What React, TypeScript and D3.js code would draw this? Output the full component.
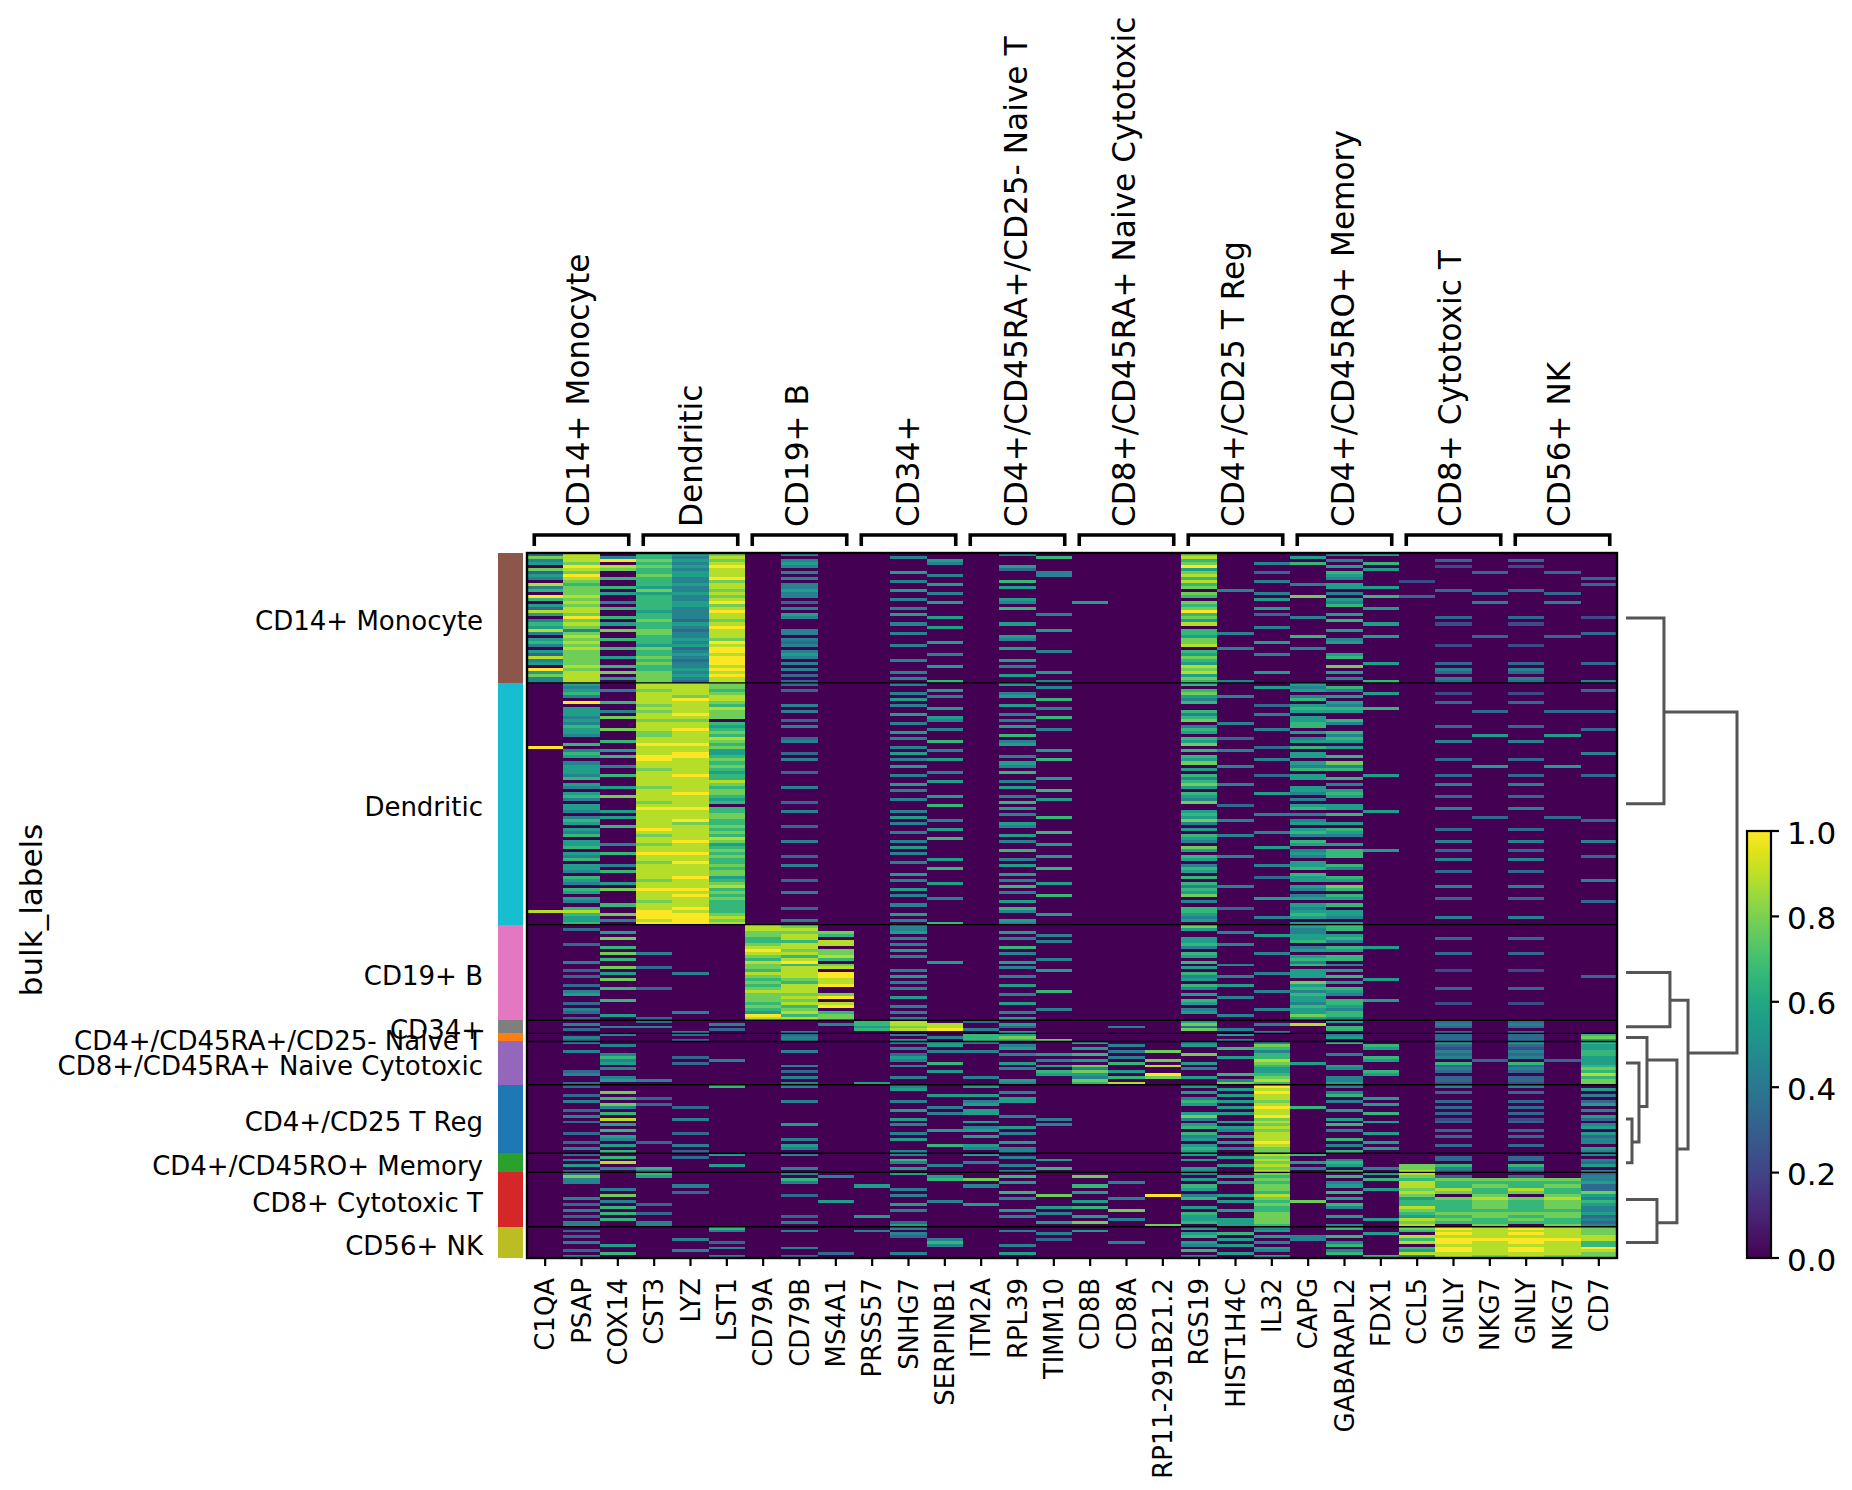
import React from "react";
import * as d3 from "d3";

const groupNames = ["CD14+ Monocyte","Dendritic","CD19+ B","CD34+","CD4+/CD45RA+/CD25- Naive T","CD8+/CD45RA+ Naive Cytotoxic","CD4+/CD25 T Reg","CD4+/CD45RO+ Memory","CD8+ Cytotoxic T","CD56+ NK"];
const groupCounts = [129,240,95,13,8,43,68,19,54,31];
const groupColors = ["#8c564b","#17becf","#e377c2","#7f7f7f","#ff7f0e","#9467bd","#1f77b4","#2ca02c","#d62728","#bcbd22"];
const genes = ["C1QA","PSAP","COX14","CST3","LYZ","LST1","CD79A","CD79B","MS4A1","PRSS57","SNHG7","SERPINB1","ITM2A","RPL39","TIMM10","CD8B","CD8A","RP11-291B21.2","RGS19","HIST1H4C","IL32","CAPG","GABARAPL2","FDX1","CCL5","GNLY","NKG7","GNLY","NKG7","CD7"];
const colorbarTicks = [0,0.2,0.4,0.6,0.8,1];

// Estimated by eye: digits 0-9 mean expression 0-1, one string per thin band of cells, one digit per distinct gene.
const monocyteRows = [
"380 657 040 000 040 000 700 045 000 0","784 648 000 040 006 000 800 500 000 0","489 757 040 005 000 000 600 040 030 0","570 648 050 004 000 000 704 606 000 0",
"098 759 040 000 050 000 900 050 020 0","787 648 000 000 030 000 500 005 000 0","370 658 040 050 004 000 703 060 003 0","590 758 000 004 004 000 800 050 000 0",
"486 649 040 000 000 000 600 040 000 3","070 647 000 040 060 000 804 000 200 0","860 658 040 005 000 000 600 450 000 3","476 548 040 000 050 000 700 055 000 0",
"670 747 050 050 000 000 040 000 030 0","075 558 040 004 000 000 704 040 003 0","980 647 040 000 000 000 600 706 300 0","670 648 000 040 050 000 005 050 000 0",
"084 659 030 005 040 500 700 040 004 0","570 657 000 000 000 000 600 060 000 0","386 648 040 040 060 000 705 005 000 0","880 549 000 000 000 000 900 000 000 0",
"570 648 050 050 004 000 603 050 000 0","096 648 040 005 000 000 700 400 030 2","470 737 000 000 000 000 500 060 000 0","685 658 000 040 050 000 800 005 020 0",
"570 649 000 005 000 000 004 000 000 0","847 738 040 000 005 000 600 050 000 0","470 748 040 040 000 000 640 000 000 3","080 648 000 000 050 000 500 605 003 0",
"576 657 040 000 040 000 700 040 000 0","680 649 030 005 000 000 705 050 000 0","470 558 040 040 000 000 800 000 020 0","086 739 000 000 050 000 040 400 000 0",
"570 649 040 000 004 000 600 000 000 0","370 658 050 004 000 000 504 050 000 0","875 749 040 000 000 000 700 060 000 0","470 639 000 040 050 000 600 000 000 0",
"570 749 040 000 000 000 500 005 030 3","086 648 000 005 040 000 800 070 000 0","970 659 040 000 000 000 700 000 040 0","587 748 000 040 005 000 805 050 030 0",
"780 759 030 000 050 000 500 000 000 0","485 748 000 040 000 000 700 040 040 0","480 738 030 006 004 000 640 006 030 4",
];
const dendriticRows = [
"050 887 030 040 050 000 600 500 000 0","040 887 000 000 004 000 005 460 000 0","054 786 030 005 000 000 600 540 000 3","060 887 000 040 040 000 700 005 020 0",
"040 878 000 004 050 000 540 450 000 0","000 898 000 050 006 000 400 600 000 0","096 887 000 000 000 000 600 050 030 0","000 786 040 040 050 000 003 540 000 0",
"050 888 000 005 004 000 000 666 000 0","054 787 040 000 000 000 600 550 003 3","050 897 000 050 040 000 404 000 000 0","047 887 000 005 006 000 600 500 000 0",
"050 770 030 004 040 000 700 560 000 0","040 886 000 040 000 000 040 640 000 0","060 885 040 000 050 000 400 600 030 0","057 896 000 004 004 000 604 000 000 3",
"050 787 000 050 000 000 500 560 000 0","040 786 000 000 060 000 000 040 005 0","000 888 030 040 000 000 630 460 000 0","006 887 040 006 040 000 500 550 040 0",
"060 996 000 000 050 000 700 000 000 0","900 887 000 040 000 000 003 650 000 0","045 885 000 004 005 000 640 000 000 0","060 895 030 050 000 000 000 500 000 4",
"056 996 000 000 040 000 600 560 000 0","000 987 040 045 006 000 504 000 030 0","040 886 000 000 050 000 700 570 000 0","054 887 000 050 040 000 040 440 005 0",
"050 786 000 000 000 000 500 660 000 0","050 885 030 004 060 000 000 000 000 0","046 896 000 040 000 000 603 505 030 3","060 886 000 000 005 000 400 560 000 0",
"000 888 000 005 040 000 600 000 000 0","050 887 000 050 000 000 740 040 040 0","045 786 040 000 050 000 500 500 000 0","000 887 000 040 006 000 000 550 000 0",
"050 897 000 000 000 000 605 460 000 0","067 886 000 005 040 000 500 050 030 0","040 885 000 040 005 000 400 400 000 0","000 786 030 000 060 000 700 000 000 0",
"050 880 000 006 000 000 030 550 000 0","050 996 000 000 050 000 000 650 040 0","045 886 040 040 000 000 500 005 000 0","000 887 000 000 040 000 604 460 000 0",
"045 887 000 050 006 000 500 000 003 0","060 896 000 004 000 000 740 400 000 3","050 876 000 040 050 000 400 550 000 0","006 887 030 000 040 000 000 000 000 0",
"050 986 000 005 000 000 500 560 030 0","040 887 000 040 006 000 004 650 000 0","060 786 000 000 050 000 640 440 000 0","000 888 000 006 000 000 500 000 000 0",
"050 897 040 040 040 000 400 600 040 4","054 785 000 000 005 000 000 550 000 0","060 886 000 050 000 000 705 000 000 0","000 887 000 000 060 000 500 465 030 0",
"056 996 000 040 000 000 000 560 000 0","040 887 030 000 005 000 640 460 000 3","060 886 000 005 040 000 500 000 040 0","000 796 000 040 000 000 000 500 000 0",
"054 887 040 000 050 000 404 560 000 0","050 886 000 006 006 000 600 640 000 0","046 887 000 000 000 000 500 000 030 0","000 887 000 050 050 000 000 600 000 0",
"060 895 000 000 000 000 603 560 000 0","050 786 030 040 040 000 000 550 000 4","045 887 000 005 005 000 600 000 000 0","000 888 000 000 060 000 440 570 040 0",
"067 996 000 050 000 000 600 460 000 0","050 887 040 000 040 000 500 000 000 0","000 896 000 040 006 000 700 460 000 0","050 887 000 004 000 000 005 550 030 0",
"040 786 000 000 050 000 400 000 000 3","006 886 000 040 000 000 000 560 000 0","060 896 030 000 060 000 630 400 000 0","880 986 000 000 040 000 600 550 000 0",
"067 997 000 050 005 000 500 650 000 0","050 998 000 000 000 000 404 540 040 0","054 897 040 040 050 000 500 000 000 0","060 998 000 006 040 000 000 550 000 0",
];
const bRows = [
"000 000 870 040 000 000 700 560 000 0","030 000 880 040 000 000 500 460 000 0","005 000 777 050 050 000 040 400 000 0","000 000 786 000 004 000 005 550 000 0",
"007 000 680 040 040 000 500 560 030 0","000 000 668 000 004 000 500 640 000 0","030 000 788 040 000 000 640 000 000 0","006 000 880 000 060 000 400 465 000 0",
"000 000 977 050 000 000 000 550 000 0","007 400 887 000 040 000 604 000 030 0","000 000 768 040 000 000 500 560 000 0","006 000 686 000 004 000 000 660 000 0",
"040 000 890 005 050 000 600 400 000 0","000 000 767 000 000 000 040 640 000 0","007 300 788 000 040 000 500 000 000 0","030 000 680 040 005 000 000 550 020 0",
"005 040 889 000 000 000 604 500 000 0","030 000 789 050 040 000 440 560 000 3","007 000 678 000 000 000 500 005 000 0","000 000 768 040 000 000 000 750 000 0",
"030 000 689 000 050 000 650 500 000 0","006 300 780 040 000 000 400 660 030 0","040 000 880 000 006 000 004 450 000 0","050 000 777 000 040 000 500 640 000 0",
"000 000 789 050 000 000 040 500 000 0","006 000 770 000 000 000 600 565 000 0","030 000 688 000 050 000 500 460 020 0","000 000 769 040 000 000 000 650 000 0",
"040 000 670 000 004 000 404 540 000 0","030 040 586 040 040 000 500 560 000 0","005 000 967 000 000 000 040 760 000 0","030 300 887 040 050 000 000 540 000 0",
];
const cd34Rows = [
"000 300 000 680 300 000 500 050 030 0","040 004 004 688 050 000 704 800 040 0","004 400 000 578 030 040 300 060 030 0","030 003 000 689 400 000 740 060 000 0","000 040 040 000 050 000 004 000 030 0",
];
const naiveTRows = [
"004 030 030 040 650 000 050 040 030 6","040 000 040 004 670 000 000 050 030 7","030 030 040 050 667 000 040 000 030 5",
];
const cd8NaiveRows = [
"040 000 000 045 400 500 404 060 050 6","004 000 000 005 040 040 507 006 030 5","000 000 000 040 050 500 066 005 020 5","040 000 040 004 400 047 004 000 040 6",
"004 000 000 030 045 600 706 040 030 6","006 030 000 050 000 040 056 006 040 5","004 004 000 040 004 507 008 005 003 5","005 030 000 006 050 060 507 500 060 5",
"000 000 040 040 005 708 006 050 030 6","004 000 000 000 040 400 405 040 040 7","030 000 030 005 006 750 005 006 030 6","040 000 000 000 005 509 066 005 000 8",
"004 000 040 040 400 467 507 040 030 6","005 400 000 000 050 700 048 040 030 7","030 000 040 500 040 680 076 050 020 7",
];
const tregRows = [
"030 006 040 040 500 000 509 040 040 0","000 000 000 050 000 000 058 000 000 5","007 000 000 000 040 000 509 040 030 0","030 000 000 005 500 000 058 060 000 4",
"006 300 000 000 050 000 408 005 000 0","040 000 040 040 450 000 657 040 030 3","007 300 000 000 500 000 508 005 000 5","004 030 000 004 000 000 059 600 030 0",
"030 000 000 050 500 000 008 050 000 4","006 000 000 004 500 000 558 006 030 0","040 000 000 000 040 000 709 000 000 5","008 040 000 050 004 000 407 050 020 3",
"030 000 000 000 500 000 058 005 030 0","005 000 050 040 004 000 507 060 000 4","000 000 000 000 450 000 658 000 000 5","006 000 000 005 500 000 047 040 030 0",
"030 030 000 040 040 000 608 005 000 5","005 000 000 000 500 000 458 000 030 3","004 000 040 050 000 000 508 060 000 4","030 300 000 000 050 000 059 005 000 4",
"005 040 050 006 500 000 508 040 030 0","040 000 040 000 440 000 647 005 000 5","006 030 000 040 040 000 507 060 000 4",
];
const memoryRows = [
"030 005 040 040 500 000 508 600 000 4","006 030 000 000 040 000 057 000 030 0","040 000 000 060 005 000 508 040 030 4","008 000 000 040 400 000 007 560 000 3",
"050 005 000 004 040 000 058 050 760 5","004 600 040 050 006 000 507 404 740 0","030 300 000 000 040 000 408 060 830 4",
];
const cytotoxicRows = [
"030 600 040 050 000 000 407 005 800 3","070 500 004 005 060 700 056 060 730 4","040 000 060 006 700 000 507 006 677 4","040 000 040 000 050 040 056 040 866 5",
"000 040 000 500 400 600 607 050 867 3","004 000 000 040 000 000 507 005 786 3","000 030 000 000 060 500 006 060 876 7","007 000 030 040 007 009 458 000 707 5",
"040 000 000 000 040 040 607 050 578 4","004 000 005 004 000 500 056 700 667 6","030 300 000 050 500 000 007 060 667 5","006 000 000 000 005 600 506 040 867 4",
"040 000 000 040 050 070 056 000 766 4","006 300 000 000 004 000 607 000 677 5","030 000 030 500 040 500 507 050 567 3","006 000 000 000 000 040 557 005 876 4",
"040 400 040 030 005 700 657 000 766 3","040 400 000 050 000 007 056 040 807 4",
];
const nkRows = [
"000 006 000 040 000 000 504 060 798 7","030 004 040 400 040 500 005 000 688 7","000 000 000 040 004 000 560 005 098 7","030 000 000 030 000 000 605 460 888 8",
"000 040 000 004 003 000 050 400 699 8","040 003 000 006 000 040 504 040 898 6","005 000 000 004 040 000 450 060 088 6","000 004 040 000 000 000 005 000 698 9",
"030 040 000 000 000 000 604 040 598 8","006 000 003 040 050 000 050 060 888 7","040 004 030 000 000 000 405 006 487 7",
];
const allRows = [monocyteRows,dendriticRows,bRows,cd34Rows,naiveTRows,cd8NaiveRows,tregRows,memoryRows,cytotoxicRows,nkRows];

// Dendrogram merges: [name, left child, right child, height, cell position of the outgoing stem]
const leafPositions = [64.5,249,416.5,470.5,481,506.5,562,605.5,642,684.5];
const merges: [string,string|number,string|number,number,number][] = [
["A",0,1,0.342,157.9],["B",2,3,0.396,444],["C",6,7,0.054,584.8],["D",5,"C",0.117,549.5],["E",4,"D",0.189,503.5],
["F",8,9,0.279,664.9],["G","E","F",0.459,591.8],["H","B","G",0.559,496.5],["I","A","H",1,496.5],
];

const W=1852,H=1490;
const hmL=527,hmR=1617,hmT=553,hmB=1258;
const FONT="'DejaVu Sans'";
const topLabelShift=[7,11,8,10,9,8,8,9,7,7];

export default function App(){
  const x=d3.scaleBand<number>().domain(d3.range(genes.length)).range([hmL,hmR]);
  const y=d3.scaleLinear().domain([0,d3.sum(groupCounts)]).range([hmT,hmB]);
  const starts=groupCounts.map((_,i)=>d3.sum(groupCounts.slice(0,i)));
  const distinct=Array.from(new Set(genes));
  const cells:React.ReactElement[]=[];
  allRows.forEach((rows,g)=>{
    rows.forEach((row,r)=>{
      const digits=row.replace(/ /g,"");
      const y0=y(starts[g]+r*groupCounts[g]/rows.length), y1=y(starts[g]+(r+1)*groupCounts[g]/rows.length);
      genes.forEach((gene,c)=>{
        const v=+digits[distinct.indexOf(gene)]/9;
        if(v>0) cells.push(<rect key={g+"-"+r+"-"+c} x={x(c)} y={y0} width={x.bandwidth()} height={y1-y0} fill={d3.interpolateViridis(v)} shapeRendering="crispEdges"/>);
      });
    });
  });
  const cbY=d3.scaleLinear().domain([0,1]).range([1258,831]);
  const dX=d3.scaleLinear().domain([0,1]).range([1626,1737]);
  const pos=new Map<string|number,{h:number,p:number}>();
  leafPositions.forEach((p,i)=>pos.set(i,{h:0,p}));
  const dendro=merges.map(([n,a,b,h,p])=>{
    const A=pos.get(a)!,B=pos.get(b)!;
    pos.set(n,{h,p});
    const path=d3.path();
    path.moveTo(dX(A.h),y(A.p));path.lineTo(dX(h),y(A.p));path.lineTo(dX(h),y(B.p));path.lineTo(dX(B.h),y(B.p));
    return <path key={n} d={path.toString()} fill="none" stroke="#555555" strokeWidth={3}/>;
  });
  let col=0;
  return (
    <svg width={W} height={H} viewBox={`0 0 ${W} ${H}`} style={{position:"absolute",left:0,top:0,display:"block",background:"#fff"}} fontFamily={FONT}>
      <defs>
        <linearGradient id="vir" x1="0" y1="1" x2="0" y2="0">
          {d3.range(0,1.0001,0.05).map(t=><stop key={t} offset={t} stopColor={d3.interpolateViridis(t)}/>)}
        </linearGradient>
      </defs>
      <text transform={`translate(42,910) rotate(-90)`} textAnchor="middle" fontSize={31}>bulk_labels</text>
      {groupNames.map((n,i)=>(
        <g key={n}>
          <rect x={498} width={25} y={y(starts[i])} height={y(starts[i]+groupCounts[i])-y(starts[i])} fill={groupColors[i]} shapeRendering="crispEdges"/>
          <text x={483} y={y(starts[i]+groupCounts[i]/2)+12.3} textAnchor="end" fontSize={26}>{n}</text>
        </g>
      ))}
      <rect x={hmL} y={hmT} width={hmR-hmL} height={hmB-hmT} fill={d3.interpolateViridis(0)}/>
      {cells}
      {starts.slice(1).map(s=><line key={s} x1={hmL} x2={hmR} y1={y(s)} y2={y(s)} stroke="#000" strokeWidth={1.4}/>)}
      <rect x={hmL} y={hmT} width={hmR-hmL} height={hmB-hmT} fill="none" stroke="#000" strokeWidth={2.4}/>
      {genes.map((g,i)=>{
        const cx=x(i)!+x.bandwidth()/2;
        return <g key={i}>
          <line x1={cx} x2={cx} y1={hmB} y2={hmB+8} stroke="#000" strokeWidth={2.2}/>
          <text transform={`translate(${cx+9},1278) rotate(-90)`} textAnchor="end" fontSize={25.9}>{g}</text>
        </g>;
      })}
      {groupNames.map((n,i)=>{
        const bw=x.bandwidth();
        const a=hmL+(col+0.2)*bw,b=hmL+(col+2.8)*bw;col+=3;
        return <g key={n}>
          <path d={`M${a},546V535H${b}V546`} fill="none" stroke="#000" strokeWidth={3.6}/>
          <text transform={`translate(${(a+b)/2+topLabelShift[i]},527) rotate(-90)`} fontSize={31.2}>{n}</text>
        </g>;
      })}
      {dendro}
      <rect x={1747} y={831} width={24} height={427} fill="url(#vir)" stroke="#000" strokeWidth={2.2}/>
      {colorbarTicks.map(t=><g key={t}>
        <line x1={1771} x2={1779} y1={cbY(t)} y2={cbY(t)} stroke="#000" strokeWidth={2.2}/>
        <text x={1787} y={cbY(t)+12.5} fontSize={31}>{t.toFixed(1)}</text>
      </g>)}
    </svg>
  );
}
